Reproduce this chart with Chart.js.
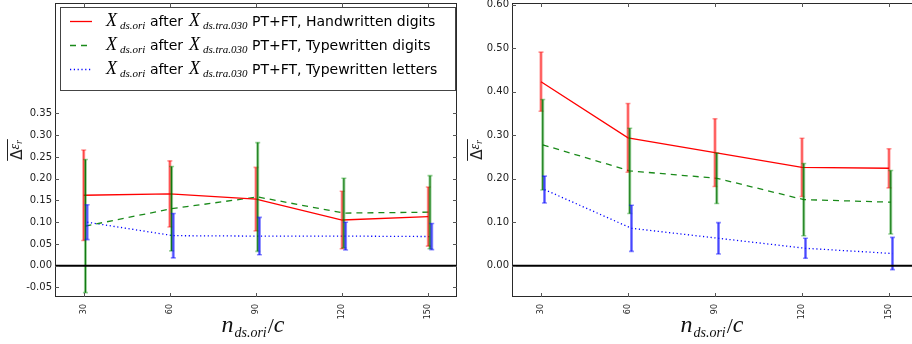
<!DOCTYPE html>
<html><head><meta charset="utf-8">
<script src="https://cdn.jsdelivr.net/npm/chart.js@4.4.0/dist/chart.umd.min.js"></script>
<style>
html,body{margin:0;padding:0;width:912px;height:344px;overflow:hidden;background:#fff;}
#w1{position:absolute;left:0;top:0;width:460px;height:344px;}
#w2{position:absolute;left:460px;top:0;width:470px;height:344px;}
</style></head><body>
<div id="w1"><canvas id="c1"></canvas></div>
<div id="w2"><canvas id="c2"></canvas></div>
<script>
// ---------- data ----------
const nValues = [30, 60, 90, 120, 150];
const xTickLabels = [30, 60, 90, 120, 150];
const leftYTicks = [-0.05, 0.00, 0.05, 0.10, 0.15, 0.20, 0.25, 0.30, 0.35];
const rightYTicks = [0.00, 0.10, 0.20, 0.30, 0.40, 0.50, 0.60];
const seriesLabels = ['Handwritten digits', 'Typewritten digits', 'Typewritten letters'];

// left panel
const leftHandMean    = [0.162, 0.165, 0.153, 0.105, 0.113];
const leftHandErr     = [0.104, 0.076, 0.073, 0.066, 0.068];
const leftTypeDigMean = [0.091, 0.131, 0.158, 0.121, 0.123];
const leftTypeDigErr  = [0.153, 0.097, 0.125, 0.080, 0.084];
const leftTypeLetMean = [0.100, 0.069, 0.068, 0.068, 0.067];
const leftTypeLetErr  = [0.040, 0.051, 0.043, 0.032, 0.030];

// right panel
const rightHandMean    = [0.423, 0.294, 0.260, 0.226, 0.224];
const rightHandErr     = [0.068, 0.079, 0.078, 0.067, 0.045];
const rightTypeDigMean = [0.278, 0.218, 0.201, 0.152, 0.146];
const rightTypeDigErr  = [0.104, 0.098, 0.058, 0.083, 0.073];
const rightTypeLetMean = [0.175, 0.086, 0.063, 0.040, 0.028];
const rightTypeLetErr  = [0.031, 0.053, 0.036, 0.023, 0.037];

// ---------- style ----------
const X_SHIFT = [0, 0.6, 1.2];
const LINE_COLORS = ['#ff0000', '#1a8a1a', '#0000ff'];
const DASHES = [[], [6, 5], [1.2, 2.6]];
const BAR_THICK = ['rgba(255,0,0,0.40)', 'rgba(0,140,0,0.40)', 'rgba(0,0,255,0.45)'];
const BAR_THIN  = ['rgba(255,0,0,0.65)', 'rgba(0,110,0,0.90)', 'rgba(40,40,255,0.7)'];
const MATH = '"Liberation Serif"';

function drawSeq(ctx, x, parts) {
  for (const p of parts) {
    ctx.font = p.f;
    ctx.fillText(p.t, x + (p.dx || 0), p.y);
    x += ctx.measureText(p.t).width + (p.dx || 0) + (p.after || 0);
  }
  return x;
}
function seqWidth(ctx, parts) {
  let w = 0;
  for (const p of parts) { ctx.font = p.f; w += ctx.measureText(p.t).width + (p.dx || 0) + (p.after || 0); }
  return w;
}

function makePlugin(means, errs, yTicks, withLegend) {
  return {
    id: 'panelDecor',
    afterDatasetsDraw(chart) {
      const ctx = chart.ctx, xs = chart.scales.x, ys = chart.scales.y, a = chart.chartArea;
      ctx.save();
      // error bars
      for (let i = 0; i < means.length; i++) {
        for (let j = 0; j < nValues.length; j++) {
          const px = xs.getPixelForValue(nValues[j] + X_SHIFT[i]);
          const yt = ys.getPixelForValue(means[i][j] + errs[i][j]);
          const yb = ys.getPixelForValue(means[i][j] - errs[i][j]);
          ctx.setLineDash([]);
          ctx.strokeStyle = BAR_THICK[i]; ctx.lineWidth = 3;
          ctx.beginPath(); ctx.moveTo(px, yt); ctx.lineTo(px, yb); ctx.stroke();
          ctx.strokeStyle = BAR_THIN[i]; ctx.lineWidth = 1.1;
          ctx.beginPath(); ctx.moveTo(px, yt); ctx.lineTo(px, yb); ctx.stroke();
          ctx.strokeStyle = BAR_THICK[i]; ctx.lineWidth = 1.6;
          ctx.beginPath();
          ctx.moveTo(px - 2.5, yt); ctx.lineTo(px + 2.5, yt);
          ctx.moveTo(px - 2.5, yb); ctx.lineTo(px + 2.5, yb);
          ctx.stroke();
        }
      }
      // zero line
      const y0 = ys.getPixelForValue(0);
      ctx.strokeStyle = '#000'; ctx.lineWidth = 2;
      ctx.beginPath(); ctx.moveTo(a.left, y0); ctx.lineTo(a.right, y0); ctx.stroke();
      // frame
      ctx.strokeStyle = '#2a2a2a'; ctx.lineWidth = 1;
      ctx.strokeRect(Math.round(a.left) + 0.5, Math.round(a.top) + 0.5,
                     Math.round(a.right - a.left) - 1, Math.round(a.bottom - a.top) - 1);
      // inward tick marks
      ctx.strokeStyle = '#555'; ctx.lineWidth = 1;
      ctx.beginPath();
      for (const v of xTickLabels) {
        const px = Math.round(xs.getPixelForValue(v)) + 0.5;
        ctx.moveTo(px, a.bottom); ctx.lineTo(px, a.bottom - 4);
        ctx.moveTo(px, a.top); ctx.lineTo(px, a.top + 4);
      }
      for (const v of yTicks) {
        const py = Math.round(ys.getPixelForValue(v)) + 0.5;
        ctx.moveTo(a.left, py); ctx.lineTo(a.left + 4, py);
        ctx.moveTo(a.right, py); ctx.lineTo(a.right - 4, py);
      }
      ctx.stroke();
      ctx.restore();
    },
    afterDraw(chart) {
      const ctx = chart.ctx, xs = chart.scales.x;
      ctx.save();
      ctx.fillStyle = '#111';
      ctx.textBaseline = 'alphabetic';
      ctx.textAlign = 'left';
      // x-axis title  n_{ds.ori}/c
      const tparts = [
        {t: 'n', f: 'italic 24px ' + MATH, y: 332},
        {t: 'ds.ori', f: 'italic 14px ' + MATH, y: 337, dx: 1},
        {t: '/', f: '22px ' + MATH, y: 333, dx: 1},
        {t: 'c', f: 'italic 24px ' + MATH, y: 332}
      ];
      const cx = xs.getPixelForValue(90) - 3;
      drawSeq(ctx, cx - seqWidth(ctx, tparts) / 2, tparts);
      // y-axis label: overline(Δ ε_r), rotated
      ctx.save();
      ctx.translate(22, 150);
      ctx.rotate(-Math.PI / 2);
      const yparts = [
        {t: 'Δ', f: '15px "DejaVu Sans"', y: 0},
        {t: 'ε', f: 'italic 14px ' + MATH, y: -3},
        {t: 'r', f: 'italic 10px ' + MATH, y: 0}
      ];
      const yw = seqWidth(ctx, yparts);
      ctx.fillStyle = '#222';
      drawSeq(ctx, -yw / 2, yparts);
      ctx.strokeStyle = '#222'; ctx.lineWidth = 1;
      ctx.beginPath(); ctx.moveTo(-yw / 2 - 1, -14.5); ctx.lineTo(yw / 2 + 1, -14.5); ctx.stroke();
      ctx.restore();
      // legend
      if (withLegend) {
        ctx.fillStyle = '#fff';
        ctx.fillRect(60.5, 7.5, 395, 83);
        ctx.strokeStyle = '#444'; ctx.lineWidth = 1;
        ctx.strokeRect(60.5, 7.5, 395, 83);
        const rows = [21, 45, 69];
        for (let i = 0; i < 3; i++) {
          const ry = rows[i];
          ctx.strokeStyle = LINE_COLORS[i]; ctx.lineWidth = 1.3;
          ctx.setLineDash(DASHES[i]);
          ctx.beginPath(); ctx.moveTo(70, ry + 0.5); ctx.lineTo(92, ry + 0.5); ctx.stroke();
          ctx.setLineDash([]);
          ctx.fillStyle = '#000';
          const b = ry + 5;
          ctx.font = 'italic 18px ' + MATH; ctx.fillText('X', 106, b);
          ctx.font = 'italic 11px ' + MATH; ctx.fillText('ds.ori', 120, b + 3);
          ctx.font = '14px "DejaVu Sans"'; ctx.fillText('after', 150, b);
          ctx.font = 'italic 18px ' + MATH; ctx.fillText('X', 189, b);
          ctx.font = 'italic 11px ' + MATH; ctx.fillText('ds.tra.030', 203, b + 3);
          ctx.font = '14px "DejaVu Sans"'; ctx.fillText('PT+FT, ' + seriesLabels[i], 252, b);
        }
      }
      ctx.restore();
    }
  };
}

function makeChart(id, means, errs, yTicks, yw, padR, withLegend) {
  const datasets = means.map((m, i) => ({
    label: seriesLabels[i],
    data: nValues.map((n, j) => ({x: n + X_SHIFT[i], y: m[j]})),
    borderColor: LINE_COLORS[i],
    borderWidth: 1.3,
    borderDash: DASHES[i],
    pointRadius: 0,
    fill: false,
    tension: 0
  }));
  return new Chart(document.getElementById(id), {
    type: 'line',
    data: {datasets},
    options: {
      responsive: true,
      maintainAspectRatio: false,
      animation: false,
      layout: {padding: {top: 3, right: padR, left: 0, bottom: 0}},
      plugins: {legend: {display: false}, tooltip: {enabled: false}},
      scales: {
        x: {
          type: 'linear', min: 20, max: 160,
          afterBuildTicks: s => { s.ticks = xTickLabels.map(v => ({value: v})); },
          afterFit: s => { s.height = 47; s.paddingLeft = 0; s.paddingRight = 0; },
          grid: {display: false, drawTicks: false},
          border: {display: false},
          ticks: {autoSkip: false, minRotation: 90, maxRotation: 90, padding: 7,
                  color: '#222', font: {family: 'DejaVu Sans', size: 8},
                  callback: v => String(v)}
        },
        y: {
          type: 'linear', min: -0.072, max: 0.604,
          afterBuildTicks: s => { s.ticks = yTicks.map(v => ({value: v})); },
          afterFit: s => { s.width = yw; s.paddingTop = 0; s.paddingBottom = 0; },
          grid: {display: false, drawTicks: false},
          border: {display: false},
          ticks: {autoSkip: false, padding: 3, color: '#222',
                  font: {family: 'DejaVu Sans', size: 10},
                  callback: v => Number(v).toFixed(2)}
        }
      }
    },
    plugins: [makePlugin(means, errs, yTicks, withLegend)]
  });
}

makeChart('c1',
  [leftHandMean, leftTypeDigMean, leftTypeLetMean],
  [leftHandErr, leftTypeDigErr, leftTypeLetErr],
  leftYTicks, 55, 3, true);
makeChart('c2',
  [rightHandMean, rightTypeDigMean, rightTypeLetMean],
  [rightHandErr, rightTypeDigErr, rightTypeLetErr],
  rightYTicks, 52, 12, false);
</script>
</body></html>
